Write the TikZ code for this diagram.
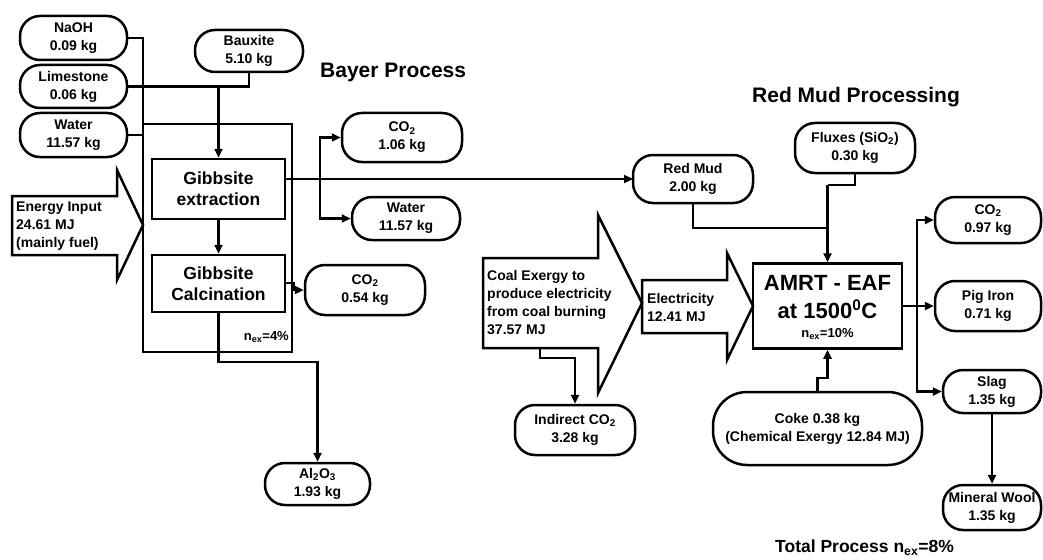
\documentclass[tikz,border=0pt]{standalone}
\usepackage{fontspec}
\setmainfont{Liberation Sans}
\usetikzlibrary{arrows.meta}
\begin{document}
\begin{tikzpicture}[x=1pt,y=-1pt,
  every node/.style={font=\fontsize{14}{18}\selectfont\bfseries, inner sep=0pt},
  pill/.style={draw, line width=2.5pt, rounded corners=20pt, align=center},
  procbox/.style={draw, line width=2.5pt, align=center},
  conn/.style={line width=2.3pt},
  arr/.style={line width=2.3pt, -{Triangle[length=9pt,width=8pt]}},
  bigarrow/.style={draw, line width=2.5pt, line join=miter},
  title/.style={font=\fontsize{21}{25}\selectfont\bfseries, anchor=west},
  eff/.style={font=\fontsize{13}{15}\selectfont\bfseries}
]
\useasboundingbox (0,0) rectangle (1043,559);

% ---------- Bayer process inputs ----------
\node[pill, minimum width=107pt, minimum height=44pt] (naoh) at (73.5,38) {NaOH\\0.09 kg};
\node[pill, minimum width=107pt, minimum height=43pt] (lime) at (73.5,86.5) {Limestone\\0.06 kg};
\node[pill, minimum width=107pt, minimum height=44pt] (water1) at (73.5,135) {Water\\11.57 kg};
\node[pill, minimum width=108pt, minimum height=42pt] (baux) at (249,51) {Bauxite\\5.10 kg};

\node[procbox, minimum width=133pt, minimum height=60pt, font=\fontsize{17.5}{21}\selectfont\bfseries] (extr) at (218.5,189) {Gibbsite\\extraction};
\node[procbox, minimum width=133pt, minimum height=57pt, font=\fontsize{17.5}{21}\selectfont\bfseries] (calc) at (218.5,283.5) {Gibbsite\\Calcination};

\node[pill, minimum width=120pt, minimum height=49pt] (co2a) at (402,137.5) {CO\textsubscript{2}\\1.06 kg};
\node[pill, minimum width=108pt, minimum height=43pt] (water2) at (406,218.5) {Water\\11.57 kg};
\node[pill, minimum width=120pt, minimum height=50pt] (co2b) at (365,290) {CO\textsubscript{2}\\0.54 kg};
\node[pill, minimum width=105pt, minimum height=42pt] (al2o3) at (317.5,484) {Al\textsubscript{2}O\textsubscript{3}\\1.93 kg};

% energy input arrow
\draw[bigarrow] (12,196) -- (117,196) -- (117,170) -- (143,225) -- (117,280) -- (117,255) -- (12,255) -- cycle;
\node[anchor=west, align=left] (energy) at (16,226) {Energy Input\\24.61 MJ\\(mainly fuel)};

% system boundary and inputs
\coordinate (tl) at (143,124);
\coordinate (bl) at (143,352);
\coordinate (br) at (292,352);
\coordinate (tr) at (292,124);
\draw[conn] (naoh.east) -| (bl) -- (br) -- (tr) -- (tl);
\draw[conn] (water1.east) -- (water1.east -| tl);
\draw[conn] (lime.east) -- (lime.east -| baux.south) -- (baux.south);
\draw[arr] (lime.east -| extr.north) -- (extr.north);
\draw[arr] (extr.south) -- (calc.north);

\node[eff, anchor=east] (eff1) at (289,337) {n\textsubscript{ex}=4\%};

% outputs of extraction
\coordinate (split) at (320,179);
\draw[arr] (extr.east |- split) -- (split) -- (633,179);
\draw[arr] (split) |- (co2a.west);
\draw[arr] (split) |- (water2.west);
\draw[arr] (calc.east |- 0,283) -- (294,283) -- (294,290) -- (co2b.west);
\draw[arr] (calc.south) -- (218.5,362) -| (al2o3.north);

\node[title] (bayer) at (320,72) {Bayer Process};
\node[title] (rmp) at (752,97) {Red Mud Processing};

% ---------- Red mud processing ----------
\node[pill, minimum width=120pt, minimum height=48pt] (redmud) at (693,179) {Red Mud\\2.00 kg};
\node[pill, minimum width=120pt, minimum height=50pt] (fluxes) at (855,148) {Fluxes (SiO\textsubscript{2})\\0.30 kg};
\node[procbox, minimum width=149pt, minimum height=85pt] (amrt) at (827.5,306) {};
\node[font=\fontsize{22}{26}\selectfont\bfseries] (amrt1) at (827.5,283) {AMRT - EAF};
\node[font=\fontsize{22}{26}\selectfont\bfseries] (amrt2) at (827.5,309) {at 1500\textsuperscript{0}C};
\node[eff] (amrt3) at (827.5,334) {n\textsubscript{ex}=10\%};
\node[pill, minimum width=209pt, minimum height=73pt, rounded corners=34pt] (coke) at (817.5,428.5) {Coke 0.38 kg\\(Chemical Exergy 12.84 MJ)};
\node[pill, minimum width=120pt, minimum height=50pt] (indco2) at (575,430) {Indirect CO\textsubscript{2}\\3.28 kg};

% coal exergy arrow
\draw[bigarrow] (483,258) -- (598,258) -- (598,215) -- (642,303) -- (598,393) -- (598,348) -- (483,348) -- cycle;
\node[anchor=west, align=left] (coal) at (487,303) {Coal Exergy to\\produce electricity\\from coal burning\\37.57 MJ};
% electricity arrow
\draw[bigarrow] (642,280) -- (727,280) -- (727,253) -- (753,306) -- (727,360) -- (727,333) -- (642,333) -- cycle;
\node[anchor=west, align=left] (elec) at (647,307) {Electricity\\12.41 MJ};

\coordinate (coalout) at (540,348);
\draw[arr] (coalout) -- (540,358) -| (indco2.north);

% inputs to AMRT
\coordinate (join) at (amrt.north |- 0,185);
\draw[conn] (redmud.south) |- (828,228);
\draw[conn] (fluxes.south) |- (join);
\draw[arr] (join) -- (amrt.north);
\draw[arr] (coke.north) -- (817.5,378) -- (827.5,378) -- (amrt.south);

% outputs of AMRT
\node[pill, minimum width=106pt, minimum height=46pt] (co2c) at (988,220) {CO\textsubscript{2}\\0.97 kg};
\node[pill, minimum width=106pt, minimum height=50pt] (pig) at (988,306) {Pig Iron\\0.71 kg};
\node[pill, minimum width=98pt, minimum height=43pt] (slag) at (992,391.5) {Slag\\1.35 kg};
\node[pill, minimum width=98pt, minimum height=45pt] (wool) at (992,507.5) {Mineral Wool\\1.35 kg};

\coordinate (bus) at (917,306);
\draw[arr] (amrt.east) -- (pig.west);
\draw[arr] (bus) |- (co2c.west);
\draw[arr] (bus) |- (slag.west);
\draw[arr] (slag.south) -- (wool.north);

\node[anchor=west, font=\fontsize{17.5}{20}\selectfont\bfseries] (total) at (775,548) {Total Process n\textsubscript{ex}=8\%};
\end{tikzpicture}
\end{document}
